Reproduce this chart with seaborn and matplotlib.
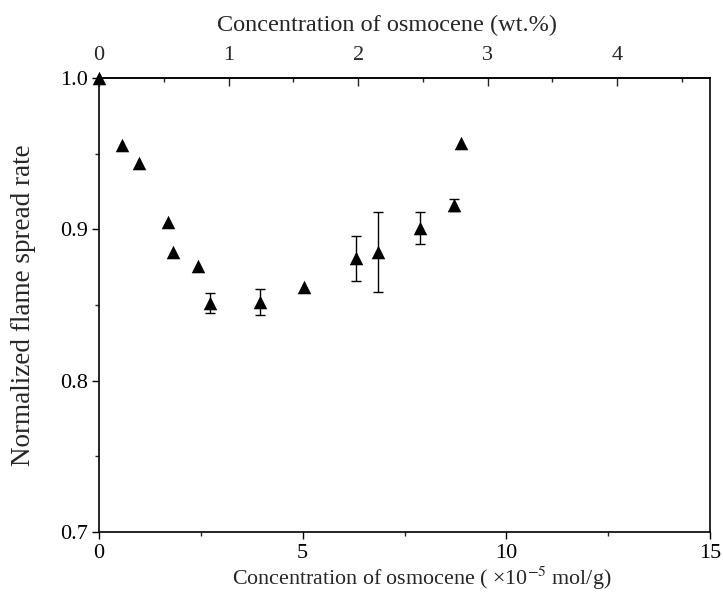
import matplotlib
matplotlib.use("Agg")
import matplotlib.pyplot as plt
import seaborn as sns
import numpy as np
import pandas as pd
from matplotlib.ticker import MultipleLocator

# Data (concentration in 1e-5 mol/g, normalized flame spread rate, error)
conc = [0.0, 0.56, 0.98, 1.70, 1.82, 2.43, 2.72, 3.96, 5.04, 6.30, 6.84, 7.88, 8.71, 8.88]
rate = [1.000, 0.956, 0.944, 0.905, 0.885, 0.876, 0.851, 0.852, 0.862, 0.881, 0.885, 0.901, 0.916, 0.957]
err = [0, 0, 0, 0, 0, 0, 0.0066, 0.0086, 0, 0.0149, 0.0266, 0.0104, 0.0038, 0]
x_ticks = [0, 5, 10, 15]
y_ticks = [0.7, 0.8, 0.9, 1.0]
top_ticks = [0, 1, 2, 3, 4]
wt_factor = 3.18  # 1 wt.% in 1e-5 mol/g

sns.set_style("ticks")
plt.rcParams["font.family"] = ["Liberation Serif", "DejaVu Serif"]
plt.rcParams["mathtext.fontset"] = "stix"

df = pd.DataFrame({"conc": conc, "rate": rate, "err": err})

fig = plt.figure(figsize=(7.23, 6.01), dpi=100)
ax = fig.add_axes([99/723, 1-532/601, (710-99)/723, (532-78)/601])

eb = df[df["err"] > 0]
ax.errorbar(eb["conc"], eb["rate"], yerr=eb["err"], fmt="none", ecolor="black",
            elinewidth=1.0, capsize=3.5, capthick=1.0, zorder=2)
sns.scatterplot(data=df, x="conc", y="rate", marker="^", color="black", s=95,
                edgecolor="black", linewidth=0, ax=ax, zorder=3, clip_on=False)

ax.set_xlim(0, 15)
ax.set_ylim(0.7, 1.0)
ax.set_xticks(x_ticks)
ax.set_yticks(y_ticks)
ax.set_yticklabels([f"{v:.1f}" for v in y_ticks])
ax.xaxis.set_minor_locator(MultipleLocator(2.5))
ax.yaxis.set_minor_locator(MultipleLocator(0.05))
ax.tick_params(axis="both", which="major", direction="out", length=5, width=1,
               labelsize=16, colors="black", top=False, right=False)
ax.tick_params(axis="x", which="major", pad=4)
ax.tick_params(axis="y", which="major", pad=3)
ax.tick_params(axis="both", which="minor", direction="out", length=3, width=1,
               top=False, right=False)
for s in ax.spines.values():
    s.set_visible(True)
    s.set_linewidth(1.2)
    s.set_color("black")

ax.set_xlabel("Concentration of osmocene ( ×10$^{-5}$ mol/g)", fontsize=15.8)
ax.xaxis.set_label_coords((422 - 99) / 611, -(565 - 532) / 454)
ax.set_ylabel("Normalized flame spread rate", fontsize=19.5, labelpad=17)

sec = ax.secondary_xaxis("top", functions=(lambda x: x / wt_factor, lambda w: w * wt_factor))
sec.set_xticks(top_ticks)
sec.xaxis.set_minor_locator(MultipleLocator(0.5))
sec.tick_params(axis="x", which="major", direction="in", length=6, width=1, labelsize=16, pad=9)
sec.tick_params(axis="x", which="minor", direction="in", length=3, width=1)
sec.spines["top"].set_linewidth(1.2)
sec.set_xlabel("Concentration of osmocene (wt.%)", fontsize=17.5)
sec.xaxis.set_label_coords((387 - 99) / 611, 1 + (78 - 31) / 454, transform=ax.transAxes)

fig.savefig("out.png", dpi=100, facecolor="white")
